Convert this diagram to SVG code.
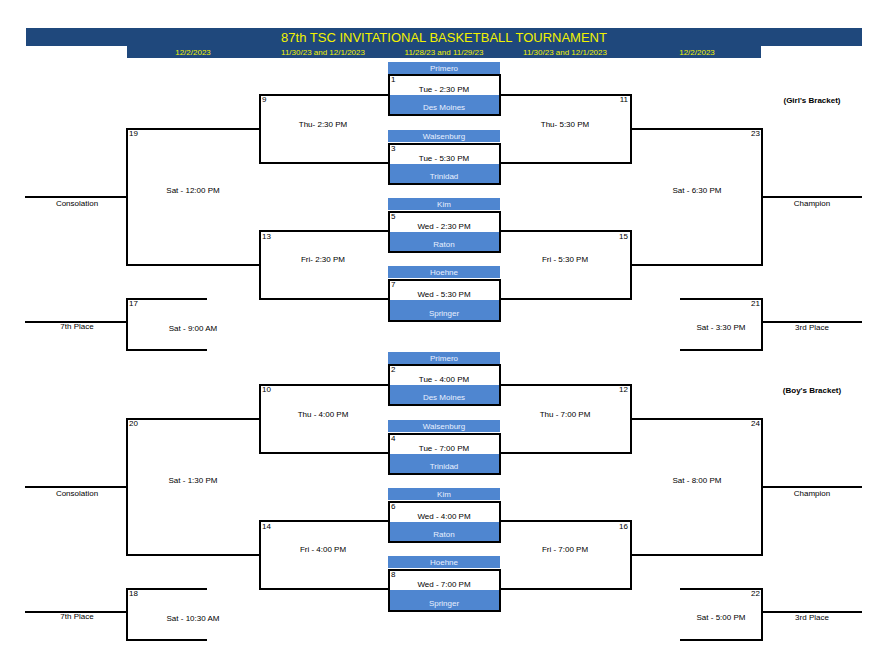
<svg xmlns="http://www.w3.org/2000/svg" width="883" height="663" viewBox="0 0 883 663">
<style>
text{font-family:"Liberation Sans",Arial,sans-serif;font-size:8px;fill:#000}
.c{text-anchor:middle}.r{text-anchor:end}
.hd{fill:#4f86d0}.ht{fill:#e8f0ff;text-anchor:middle}
.ln{stroke:#000;stroke-width:2;fill:none}
.bx{fill:#fff;stroke:#000;stroke-width:2}
.y{fill:#f2f200;text-anchor:middle}
</style>
<g id="header">
<rect x="26" y="28" width="836" height="18" fill="#1f487c"/>
<rect x="127" y="46" width="634" height="12" fill="#1f487c"/>
<text x="444" y="42" class="y" style="font-size:13px">87th TSC INVITATIONAL BASKETBALL TOURNAMENT</text>
<text x="193" y="55" class="y">12/2/2023</text>
<text x="323" y="55" class="y">11/30/23 and 12/1/2023</text>
<text x="444" y="55" class="y">11/28/23 and 11/29/23</text>
<text x="565" y="55" class="y">11/30/23 and 12/1/2023</text>
<text x="697" y="55" class="y">12/2/2023</text>
</g>

<g id="girls">
<g id="connectors-girls">
<path class="ln" d="M388 95H260V163H388M500 95H631V163H500M388 231H260V299H388M500 231H631V299H500M260 129H127V265H260M631 129H762V265H631M25 197H127M762 197H862M207 299H127V350H207M25 322H127M680 299H762V350H680M762 322H862"/>
</g>
<g id="g1"><rect x="388" y="62" width="112" height="12" class="hd"/><text x="444" y="71" class="ht">Primero</text><rect x="389" y="75" width="111" height="40" class="bx"/><rect x="390" y="95" width="109" height="19" class="hd"/><text x="391" y="82">1</text><text x="444" y="92" class="c">Tue - 2:30 PM</text><text x="444" y="110" class="ht">Des Moines</text></g>
<g id="g3"><rect x="388" y="130" width="112" height="12" class="hd"/><text x="444" y="139" class="ht">Walsenburg</text><rect x="389" y="144" width="111" height="40" class="bx"/><rect x="390" y="164" width="109" height="19" class="hd"/><text x="391" y="151">3</text><text x="444" y="161" class="c">Tue - 5:30 PM</text><text x="444" y="179" class="ht">Trinidad</text></g>
<g id="g5"><rect x="388" y="198" width="112" height="12" class="hd"/><text x="444" y="207" class="ht">Kim</text><rect x="389" y="212" width="111" height="40" class="bx"/><rect x="390" y="232" width="109" height="19" class="hd"/><text x="391" y="219">5</text><text x="444" y="229" class="c">Wed - 2:30 PM</text><text x="444" y="247" class="ht">Raton</text></g>
<g id="g7"><rect x="388" y="266" width="112" height="12" class="hd"/><text x="444" y="275" class="ht">Hoehne</text><rect x="389" y="280" width="111" height="41" class="bx"/><rect x="390" y="300" width="109" height="20" class="hd"/><text x="391" y="287">7</text><text x="444" y="297" class="c">Wed - 5:30 PM</text><text x="444" y="316" class="ht">Springer</text></g>
<g id="g9"><text x="262" y="102">9</text><text x="323" y="127" class="c">Thu- 2:30 PM</text></g>
<g id="g11"><text x="628" y="102" class="r">11</text><text x="565" y="127" class="c">Thu- 5:30 PM</text></g>
<g id="g13"><text x="262" y="239">13</text><text x="323" y="262" class="c">Fri- 2:30 PM</text></g>
<g id="g15"><text x="628" y="239" class="r">15</text><text x="565" y="262" class="c">Fri - 5:30 PM</text></g>
<g id="g19"><text x="129" y="136">19</text><text x="193" y="193" class="c">Sat - 12:00 PM</text><text x="77" y="206" class="c">Consolation</text></g>
<g id="g23"><text x="760" y="136" class="r">23</text><text x="697" y="193" class="c">Sat - 6:30 PM</text><text x="812" y="206" class="c">Champion</text></g>
<g id="g17"><text x="129" y="306">17</text><text x="193" y="331" class="c">Sat - 9:00 AM</text><text x="77" y="329" class="c">7th Place</text></g>
<g id="g21"><text x="760" y="306" class="r">21</text><text x="721" y="330" class="c">Sat - 3:30 PM</text><text x="812" y="330" class="c">3rd Place</text></g>
<text x="812" y="103" class="c" style="font-weight:bold">(Girl's Bracket)</text>
</g>

<g id="boys" transform="translate(0,290)">
<g id="connectors-boys">
<path class="ln" d="M388 95H260V163H388M500 95H631V163H500M388 231H260V299H388M500 231H631V299H500M260 129H127V265H260M631 129H762V265H631M25 197H127M762 197H862M207 299H127V350H207M25 322H127M680 299H762V350H680M762 322H862"/>
</g>
<g id="g2"><rect x="388" y="62" width="112" height="12" class="hd"/><text x="444" y="71" class="ht">Primero</text><rect x="389" y="75" width="111" height="40" class="bx"/><rect x="390" y="95" width="109" height="19" class="hd"/><text x="391" y="82">2</text><text x="444" y="92" class="c">Tue - 4:00 PM</text><text x="444" y="110" class="ht">Des Moines</text></g>
<g id="g4"><rect x="388" y="130" width="112" height="12" class="hd"/><text x="444" y="139" class="ht">Walsenburg</text><rect x="389" y="144" width="111" height="40" class="bx"/><rect x="390" y="164" width="109" height="19" class="hd"/><text x="391" y="151">4</text><text x="444" y="161" class="c">Tue - 7:00 PM</text><text x="444" y="179" class="ht">Trinidad</text></g>
<g id="g6"><rect x="388" y="198" width="112" height="12" class="hd"/><text x="444" y="207" class="ht">Kim</text><rect x="389" y="212" width="111" height="40" class="bx"/><rect x="390" y="232" width="109" height="19" class="hd"/><text x="391" y="219">6</text><text x="444" y="229" class="c">Wed - 4:00 PM</text><text x="444" y="247" class="ht">Raton</text></g>
<g id="g8"><rect x="388" y="266" width="112" height="12" class="hd"/><text x="444" y="275" class="ht">Hoehne</text><rect x="389" y="280" width="111" height="41" class="bx"/><rect x="390" y="300" width="109" height="20" class="hd"/><text x="391" y="287">8</text><text x="444" y="297" class="c">Wed - 7:00 PM</text><text x="444" y="316" class="ht">Springer</text></g>
<g id="g10"><text x="262" y="102">10</text><text x="323" y="127" class="c">Thu - 4:00 PM</text></g>
<g id="g12"><text x="628" y="102" class="r">12</text><text x="565" y="127" class="c">Thu - 7:00 PM</text></g>
<g id="g14"><text x="262" y="239">14</text><text x="323" y="262" class="c">Fri - 4:00 PM</text></g>
<g id="g16"><text x="628" y="239" class="r">16</text><text x="565" y="262" class="c">Fri - 7:00 PM</text></g>
<g id="g20"><text x="129" y="136">20</text><text x="193" y="193" class="c">Sat - 1:30 PM</text><text x="77" y="206" class="c">Consolation</text></g>
<g id="g24"><text x="760" y="136" class="r">24</text><text x="697" y="193" class="c">Sat - 8:00 PM</text><text x="812" y="206" class="c">Champion</text></g>
<g id="g18"><text x="129" y="306">18</text><text x="193" y="331" class="c">Sat - 10:30 AM</text><text x="77" y="329" class="c">7th Place</text></g>
<g id="g22"><text x="760" y="306" class="r">22</text><text x="721" y="330" class="c">Sat - 5:00 PM</text><text x="812" y="330" class="c">3rd Place</text></g>
<text x="812" y="103" class="c" style="font-weight:bold">(Boy's Bracket)</text>
</g>
</svg>
